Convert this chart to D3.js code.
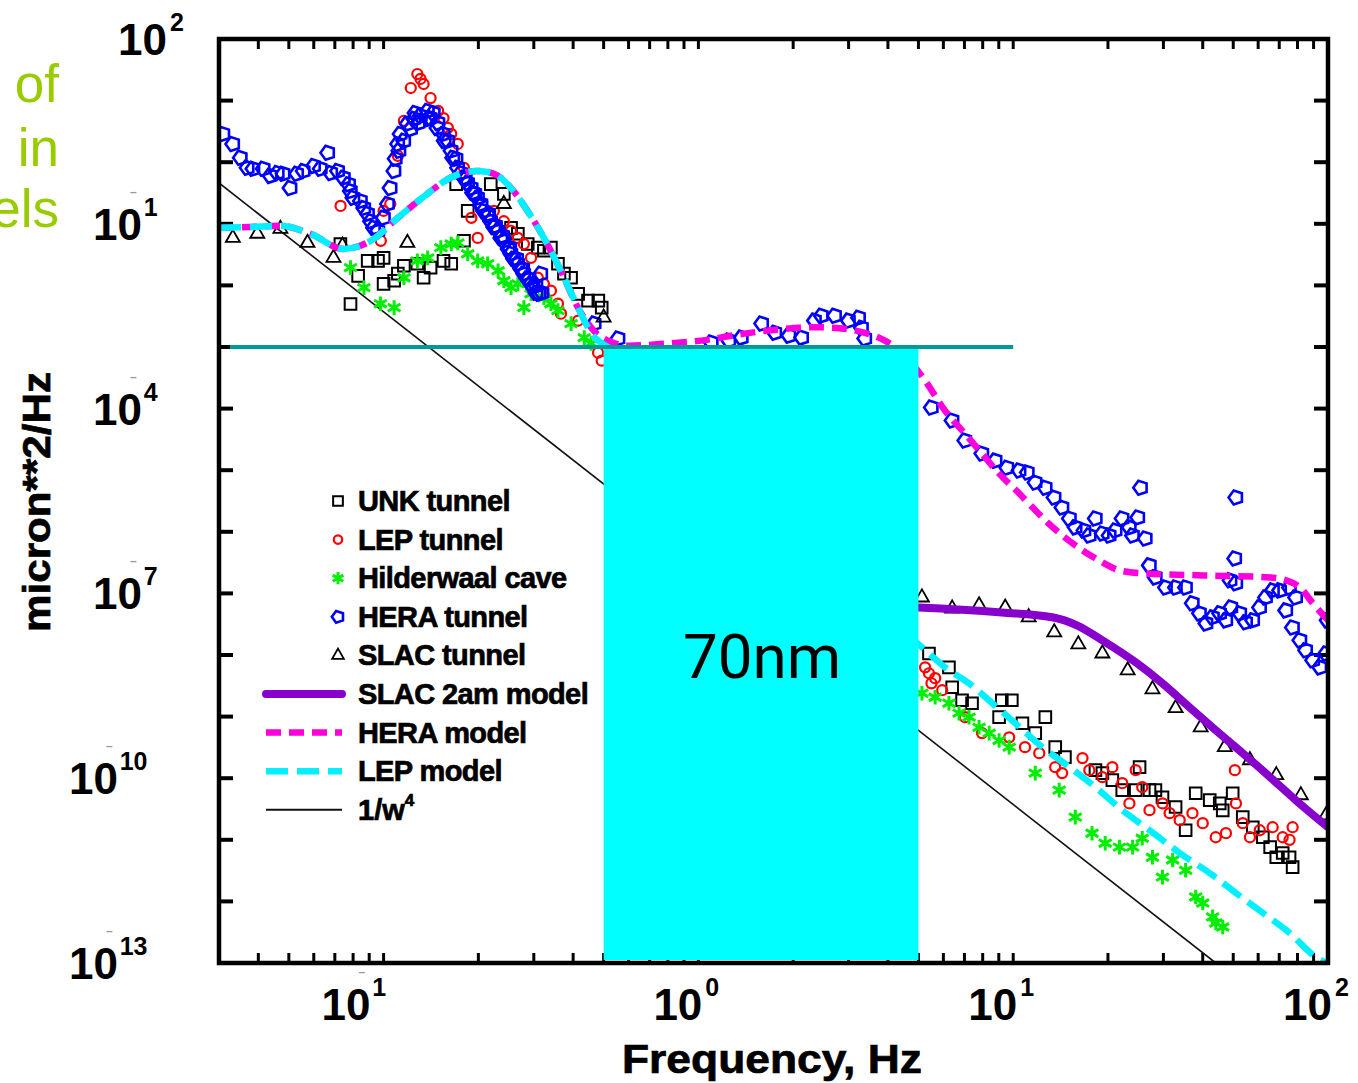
<!DOCTYPE html>
<html><head>
<meta charset="utf-8">
<script src="https://d3js.org/d3.v7.min.js"></script>
<style>
  body { margin: 0; background: #fff; }
  text { font-family: "Liberation Sans", Arial, sans-serif; }
  .heavy { stroke: #000; stroke-width: 0.7; }
</style>
</head>
<body>
<svg id="chart" width="1358" height="1083"></svg>
<script>
// ---- data: [frequency Hz, micron^2/Hz] ----
const unkTunnel = [
  [0.0729,0.047],[0.0785,0.005],[0.083,0.0143],[0.089,0.025],[0.096,0.025],[0.1,0.028],[0.1,0.0106],
  [0.108,0.0119],[0.111,0.0155],[0.116,0.0208],[0.128,0.0225],[0.134,0.0133],[0.141,0.0194],[0.155,0.025],
  [0.164,0.0225],[0.17,0.44],[0.18,0.053],[0.185,0.162],[0.219,0.44],[0.241,0.306],[0.254,0.086],[0.267,0.069],
  [0.287,0.047],[0.309,0.041],[0.323,0.0365],[0.34,0.041],[0.358,0.0225],[0.374,0.0155],[0.394,0.0133],
  [0.415,0.0073],[0.446,0.00565],[0.481,0.00565],[0.493,0.00435],
  [5.4,1.06e-8],[6.25,6.3e-9],[6.4,3.0e-9],[6.88,1.84e-9],[7.4,1.65e-9],[9.02,9.8e-10],[9.2,1.84e-9],
  [9.9,1.84e-9],[10.7,7.8e-10],[11.75,5.4e-10],[12.65,9.8e-10],[13.6,3.19e-10],[14.6,2.2e-10],[18.25,1.35e-10],
  [19.2,1.21e-10],[20.65,9.3e-11],[22.2,6.4e-11],[24.5,6.4e-11],[25.2,1.51e-10],[27.1,6.4e-11],[28.3,6.4e-11],
  [29.8,4.9e-11],[32.8,3.4e-11],[35.3,1.43e-11],[38,5.7e-11],[42.1,4.4e-11],[45.3,3.9e-11],[46.3,3.0e-11],
  [49.8,5.7e-11],[53.6,2.33e-11],[57.7,1.6e-11],[62.1,1.1e-11],[65.5,7.6e-12],[68.5,5.2e-12],[71.8,6.1e-12],
  [75.5,5.2e-12],[77.2,3.6e-12]
];
const lepTunnel = [
  [0.073,0.195],[0.098,0.053],[0.1,0.162],[0.105,0.21],[0.111,1.27],[0.116,4.7],[0.122,16],[0.128,27],
  [0.131,22.5],[0.134,18.6],[0.141,11],[0.149,6.8],[0.155,5.2],[0.16,3.6],[0.164,2.88],[0.172,1.98],[0.18,0.81],
  [0.19,0.125],[0.199,0.059],[0.224,0.162],[0.241,0.11],[0.254,0.077],[0.267,0.059],[0.279,0.047],[0.294,0.028],
  [0.309,0.0133],[0.323,0.0106],[0.34,0.0082],[0.358,0.00505],[0.366,0.00347],[0.415,0.00268],[0.48,8.1e-4],
  [0.493,6.0e-4],
  [5.25,6.3e-9],[5.4,5.05e-9],[5.5,3.47e-9],[5.65,4.2e-9],[5.95,2.68e-9],[7.03,9.8e-10],[7.96,5.4e-10],
  [9.71,4.6e-10],[10.9,3.19e-10],[12.1,2.55e-10],[13.6,1.51e-10],[14.3,1.21e-10],[16.6,2.12e-10],[17.45,1.35e-10],
  [19.2,1.04e-10],[20.65,1.51e-10],[22.2,8.3e-11],[23.4,3.9e-11],[24.5,1.35e-10],[25.7,7.15e-11],[27.1,3.03e-11],
  [29.8,3.9e-11],[31.4,2.71e-11],[33.8,2.08e-11],[37.1,2.71e-11],[40,1.86e-11],[44,1.1e-11],[47.4,1.28e-11],
  [51,3.9e-11],[50.6,1.35e-10],[53.6,1.86e-11],[56.5,1.1e-11],[60.7,1.43e-11],[66.7,1.6e-11],[71.8,1.1e-11],
  [77.2,1.6e-11],[75.5,1e-11]
];
const caveData = [
  [0.0785,0.0194],[0.0866,0.0092],[0.0977,0.00505],[0.108,0.00435],[0.116,0.0133],[0.128,0.025],[0.138,0.028],
  [0.152,0.041],[0.164,0.047],[0.172,0.049],[0.185,0.0326],[0.199,0.025],[0.214,0.0225],[0.231,0.0173],
  [0.241,0.0119],[0.254,0.0092],[0.267,0.0106],[0.279,0.00435],[0.294,0.0073],[0.323,0.0063],[0.34,0.00505],
  [0.358,0.0039],[0.394,0.0024],[0.434,0.00142],[0.456,0.00114],
  [5.13,2.4e-9],[5.65,2.06e-9],[6.25,1.65e-9],[6.73,1.14e-9],[7.24,9.8e-10],[7.79,6.7e-10],[8.39,5.4e-10],
  [9.02,4.1e-10],[9.71,3.19e-10],[11.75,1.21e-10],[14.0,6.4e-11],[15.75,2.33e-11],[17.8,1.28e-11],[19.6,8.8e-12],
  [21.75,7.6e-12],[23.95,7.6e-12],[25.7,1.06e-11],[27.7,5.2e-12],[29.8,2.48e-12],[32.1,4.7e-12],[35.3,3.2e-12],
  [38,1.18e-12],[40,9.4e-13],[43,5.6e-13],[44,4.45e-13],[46.3,3.84e-13]
];
const heraTunnel = [
  [0.0309,2.88],[0.0332,1.98],[0.0351,1.18],[0.0369,0.81],[0.0385,0.78],[0.0415,0.78],[0.0437,0.6],[0.046,0.67],
  [0.048,0.65],[0.0505,0.38],[0.053,0.65],[0.0556,0.72],[0.06,0.87],[0.063,0.78],[0.0665,1.42],[0.068,0.67],
  [0.0715,0.72],[0.0746,0.56],[0.0775,0.44],[0.0785,0.34],[0.08,0.265],[0.0845,0.235],[0.0866,0.18],[0.089,0.145],
  [0.091,0.11],[0.093,0.086],[0.096,0.077],[0.1,0.125],[0.103,0.21],[0.105,0.38],[0.108,0.72],[0.109,1.14],
  [0.111,1.98],[0.113,2.88],[0.119,4.2],[0.125,5.05],[0.131,5.65],[0.138,6.8],[0.141,5.2],[0.149,4.35],
  [0.155,2.88],[0.164,1.53],[0.172,0.81],[0.18,0.56],[0.19,0.38],[0.199,0.265],[0.208,0.162],[0.219,0.11],
  [0.231,0.077],[0.241,0.053],[0.254,0.0326],[0.267,0.0225],[0.279,0.0155],[0.294,0.0106],[0.305,0.0076],
  [0.316,0.0155],[0.467,0.0024],[0.556,0.00137],
  [0.122,3.47],[0.129,4.35],[0.139,5.05],[0.148,3.6],[0.156,2.22],[0.166,1.18],[0.176,0.67],[0.185,0.46],
  [0.195,0.306],[0.204,0.21],[0.216,0.145],[0.227,0.093],[0.239,0.064],[0.252,0.041],[0.265,0.0271],
  [0.277,0.0186],[0.29,0.0128],[0.305,0.0099],[0.319,0.0076],
  [0.112,1.53],[0.116,2.22],[0.126,6.3],[0.144,6.3],[0.16,2.22],[0.17,1.14],[0.182,0.53],[0.192,0.32],
  [0.204,0.195],[0.214,0.134],[0.224,0.089],[0.236,0.059],[0.249,0.039],[0.259,0.027],[0.273,0.0186],
  [0.286,0.0128],[0.298,0.0095],[0.312,0.0073],
  [1.10,0.00118],[1.25,0.00127],[1.37,0.00142],[1.59,0.0024],[1.75,0.00171],[1.94,0.00153],[2.13,0.00142],
  [2.34,0.00268],[2.46,0.00322],[2.71,0.00322],[3.0,0.00268],[3.23,0.00299],[3.3,0.00206],[3.38,0.00137],
  [5.5,1.04e-4],[6.4,6.4e-5],[7.03,3.03e-5],[7.96,1.86e-5],[8.77,1.43e-5],[9.56,1.1e-5],[10.45,9.9e-6],
  [11.1,9.2e-6],[11.75,6.3e-6],[12.65,5.2e-6],[13.5,3.6e-6],[14.3,2.48e-6],[15.1,1.65e-6],[15.75,1.18e-6],
  [16.8,1.05e-6],[17.45,8.7e-7],[18.25,1.65e-6],[19.2,9.4e-7],[20.2,8.7e-7],[21.1,1.05e-6],[22.2,1.65e-6],
  [23.4,1.18e-6],[23.95,8.7e-7],[24.9,1.71e-6],[25.4,5.2e-6],[26.3,7.8e-7],[27.1,2.85e-7],[28.3,1.82e-7],
  [30.5,1.25e-7],[32.8,1.25e-7],[35.3,1.25e-7],[37.1,6.9e-8],[39.1,4.74e-8],[41,3.26e-8],[43,4.1e-8],
  [45.3,4.74e-8],[47.4,3.65e-8],[49.2,5.9e-8],[48.9,1.63e-7],[51,1.46e-7],[51,3.6e-6],[50.6,3.7e-7],
  [52.5,4.74e-8],[54.8,3.4e-8],[57.7,3.65e-8],[60.7,5.9e-8],[63.4,8.6e-8],[66.7,1.12e-7],[70.3,1.12e-7],
  [73.5,5.3e-8],[75.5,1.25e-7],[77.2,2.8e-8],[79,8.6e-8],[81.5,1.73e-8],[85,1.19e-8],[89.5,8.2e-9],
  [94.3,6.3e-9],[98.5,1.06e-8],[99.5,3.65e-8]
];
const slacTunnel = [
  [0.0332,0.059],[0.0397,0.069],[0.047,0.083],[0.0573,0.049],[0.0693,0.028],[0.074,0.044],[0.119,0.049],
  [0.241,0.21],[0.50,0.003],
  [5.13,8.6e-8],[6.4,5.7e-8],[7.79,6.4e-8],[9.43,5.9e-8],[11.2,4.1e-8],[13.5,2.33e-8],[16.1,1.49e-8],
  [19.2,1.06e-8],[23.1,5.65e-9],[27.7,2.78e-9],[32.8,1.37e-9],[39.4,6.7e-10],[47,3.19e-10],[56.5,1.96e-10],
  [68.5,1.12e-10],[82,5.3e-11],[98.5,2.5e-11]
];
const slac2amModel = [
  [4.6,6e-8],[5.0,5.9e-8],[9.2,4.9e-8],[13.3,4.1e-8],[16.0,3.0e-8],[19.2,1.73e-8],[24.5,7.6e-9],[29.8,3.47e-9],
  [36.3,1.42e-9],[44,6.0e-10],[53.6,2.55e-10],[65.5,1.04e-10],[79,4.4e-11],[100,1.6e-11]
];
const heraModel = [
  [0.03,0.086],[0.0377,0.089],[0.047,0.093],[0.0585,0.069],[0.0746,0.039],[0.091,0.053],[0.111,0.125],
  [0.138,0.31],[0.163,0.56],[0.199,0.72],[0.224,0.65],[0.254,0.38],[0.287,0.16],[0.323,0.059],[0.366,0.017],
  [0.415,0.0043],[0.467,0.0018],[0.529,0.0012],[0.60,0.00105],[0.80,0.00114],[1.02,0.00127],[1.40,0.00165],
  [1.94,0.002],[2.34,0.0021],[2.85,0.002],[3.38,0.0017],[3.91,0.00127],[4.53,7.3e-4],[5.25,2.85e-4],
  [6.07,9.3e-5],[7.03,3.9e-5],[7.96,1.86e-5],[9.02,8.8e-6],[10.45,4.2e-6],[11.2,2.9e-6],[12.65,1.53e-6],
  [14.6,8.1e-7],[16.6,5.0e-7],[18.8,3.4e-7],[21.75,2.37e-7],[25.7,2.12e-7],[40,1.96e-7],[65.5,1.82e-7],
  [73.5,1.63e-7],[81.5,1.25e-7],[89.5,6.9e-8],[100,3.65e-8]
];
const lepModel = [
  [0.03,0.086],[0.0377,0.089],[0.047,0.093],[0.0585,0.069],[0.0746,0.039],[0.091,0.053],[0.111,0.125],
  [0.138,0.31],[0.163,0.56],[0.199,0.72],[0.224,0.65],[0.254,0.38],[0.287,0.16],[0.323,0.059],[0.366,0.017],
  [0.415,0.0043],[0.456,0.0017],[0.53,9e-4],
  [5.4,1.06e-8],[6.07,6.3e-9],[7.24,3.47e-9],[8.58,1.65e-9],[10.15,7.8e-10],[12.37,3.19e-10],[15.1,1.51e-10],
  [18.25,7.15e-11],[22.2,3.03e-11],[27.1,1.43e-11],[33.8,6.1e-12],[42.1,2.88e-12],[51,1.37e-12],[62.1,6.5e-13],
  [75.5,3.07e-13],[91.5,1.25e-13],[98,1.02e-13]
];
const invW4 = [[0.03,0.46],[44,1e-13]];

const limitLine = [[0.0325,1e-3],[10,1e-3]];
const bandBox = {f0: 0.5, f1: 5, v0: 1e-13, v1: 1e-3, label: "70nm"};
const xLabelExps = [-1, 0, 1, 2];
const yLabelExps = [2, -1, -4, -7, -10, -13];
const yDecades = d3.range(-13, 3);
const sideText = ["of", "in", "els"];

// ---- chart ----
const svg = d3.select("#chart");
const x = d3.scaleLog().domain([0.03, 100]).range([219, 1328]);
const y = d3.scaleLog().domain([1e-13, 1e2]).range([963, 39]);

svg.append("defs").append("clipPath").attr("id", "plotClip")
  .append("rect").attr("x", 219).attr("y", 39).attr("width", 1109).attr("height", 924);

// ticks
const ticks = svg.append("g").attr("stroke", "#000");
x.ticks().forEach(t => {
  ticks.append("line").attr("x1", x(t)).attr("x2", x(t)).attr("y1", 963).attr("y2", 953).attr("stroke-width", 3);
  ticks.append("line").attr("x1", x(t)).attr("x2", x(t)).attr("y1", 39).attr("y2", 49).attr("stroke-width", 3);
});
yDecades.forEach(e => {
  const yy = y(Math.pow(10, e));
  ticks.append("line").attr("x1", 219).attr("x2", 233).attr("y1", yy).attr("y2", yy).attr("stroke-width", 4);
  ticks.append("line").attr("x1", 1314).attr("x2", 1328).attr("y1", yy).attr("y2", yy).attr("stroke-width", 4);
});

const plot = svg.append("g").attr("clip-path", "url(#plotClip)");
const line = d3.line().x(d => x(d[0])).y(d => y(d[1])).curve(d3.curveMonotoneX);

// 1/w^4
plot.append("path").datum(invW4).attr("d", line).attr("fill", "none")
  .attr("stroke", "#111").attr("stroke-width", 1.6);

const pentagon = {
  draw(ctx, size) {
    const r = Math.sqrt(size) * 0.6;
    for (let i = 0; i < 5; i++) {
      const a = Math.PI + i * 2 * Math.PI / 5;
      const px = r * Math.cos(a), py = r * Math.sin(a);
      if (i) ctx.lineTo(px, py); else ctx.moveTo(px, py);
    }
    ctx.closePath();
  }
};

const scatterSeries = [
  {name: "UNK tunnel", data: unkTunnel, shape: d3.symbolSquare, size: 135, color: "#000", sw: 2},
  {name: "LEP tunnel", data: lepTunnel, shape: d3.symbolCircle, size: 80, color: "#ff0000", sw: 2.2},
  {name: "Hilderwaal cave", data: caveData, shape: d3.symbolAsterisk, size: 150, color: "#00ee00", sw: 3},
  {name: "HERA tunnel", data: heraTunnel, shape: pentagon, size: 150, color: "#0000ff", sw: 2.6},
  {name: "SLAC tunnel", data: slacTunnel, shape: d3.symbolTriangle, size: 85, color: "#000", sw: 1.8}
];
const lineSeries = [
  {name: "SLAC 2am model", data: slac2amModel, color: "#8800cc", sw: 8, dash: null},
  {name: "HERA model", data: heraModel, color: "#ff00dd", sw: 6.5, dash: "15,8"},
  {name: "LEP model", data: lepModel, color: "#00f0ff", sw: 6.5, dash: "22,9"}
];

scatterSeries.forEach(s => {
  plot.append("g").selectAll("path").data(s.data).join("path")
    .attr("transform", d => `translate(${x(d[0])},${y(d[1])})`)
    .attr("d", d3.symbol().type(s.shape).size(s.size))
    .attr("fill", "none").attr("stroke", s.color).attr("stroke-width", s.sw);
});

lineSeries.forEach(s => {
  plot.append("path").datum(s.data).attr("d", line).attr("fill", "none")
    .attr("stroke", s.color).attr("stroke-width", s.sw)
    .attr("stroke-dasharray", s.dash).attr("stroke-linecap", s.dash ? "butt" : "round");
});

// cyan band and limit line
svg.append("rect")
  .attr("x", x(bandBox.f0)).attr("y", y(bandBox.v1))
  .attr("width", x(bandBox.f1) - x(bandBox.f0)).attr("height", y(bandBox.v0) - y(bandBox.v1) - 3)
  .attr("fill", "#00ffff");
svg.append("path").datum(limitLine).attr("d", d3.line().x(d => x(d[0])).y(d => y(d[1])))
  .attr("stroke", "#00999a").attr("stroke-width", 4);
svg.append("text").attr("x", (x(bandBox.f0) + x(bandBox.f1)) / 2 + 1).attr("y", 678)
  .attr("text-anchor", "middle").style("font-family", "Roboto, 'Liberation Sans', sans-serif")
  .attr("font-size", 62).attr("fill", "#000").text(bandBox.label);

// frame
svg.append("rect").attr("x", 219).attr("y", 39).attr("width", 1109).attr("height", 924)
  .attr("fill", "none").attr("stroke", "#000").attr("stroke-width", 4.5);

// tick labels: "10" + small grey minus + superscript, one text element each
function powerLabel(xEnd, base, exp) {
  const t = svg.append("text").attr("x", xEnd - 49).attr("y", base).attr("font-weight", "bold");
  t.append("tspan").attr("font-size", 44).text("10");
  if (exp < 0) {
    t.append("tspan").attr("dx", -12).attr("dy", -44).attr("font-size", 12).attr("fill", "#999").text("\u2013");
    t.append("tspan").attr("dx", 7).attr("dy", 20).attr("font-size", 25).text(Math.abs(exp));
  } else {
    t.append("tspan").attr("dx", 3).attr("dy", -24).attr("font-size", 25).text(exp);
  }
}
yLabelExps.forEach(e => {
  const xEnd = e >= 0 ? 167 : (Math.abs(e) >= 10 ? 118 : 142);
  powerLabel(xEnd, y(Math.pow(10, e)) + 16, e);
});
xLabelExps.forEach(e => {
  powerLabel(x(Math.pow(10, e)) + (e < 0 ? -13 : 4), 1020, e);
});

// axis titles
svg.append("text").attr("class", "heavy").attr("x", 772).attr("y", 1073).attr("text-anchor", "middle")
  .attr("font-weight", "bold").attr("font-size", 40)
  .attr("textLength", 300).attr("lengthAdjust", "spacingAndGlyphs").text("Frequency, Hz");
svg.append("text").attr("class", "heavy").attr("transform", "translate(50,502) rotate(-90)")
  .attr("text-anchor", "middle").attr("font-weight", "bold").attr("font-size", 38)
  .attr("textLength", 260).attr("lengthAdjust", "spacingAndGlyphs").text("micron**2/Hz");

// legend
const legend = svg.append("g");
const rowY = i => 501 + i * 38.6;
scatterSeries.forEach((s, i) => {
  legend.append("path").attr("transform", `translate(338,${rowY(i)})`)
    .attr("d", d3.symbol().type(s.shape).size(s.size * 0.7))
    .attr("fill", "none").attr("stroke", s.color).attr("stroke-width", s.sw);
});
lineSeries.forEach((s, j) => {
  const i = scatterSeries.length + j;
  legend.append("line").attr("x1", 266).attr("x2", 342).attr("y1", rowY(i)).attr("y2", rowY(i))
    .attr("stroke", s.color).attr("stroke-width", s.sw).attr("stroke-dasharray", s.dash)
    .attr("stroke-linecap", s.dash ? "butt" : "round");
});
const wRow = scatterSeries.length + lineSeries.length;
legend.append("line").attr("x1", 266).attr("x2", 342).attr("y1", rowY(wRow)).attr("y2", rowY(wRow))
  .attr("stroke", "#111").attr("stroke-width", 2);
const names = scatterSeries.map(s => s.name).concat(lineSeries.map(s => s.name));
names.forEach((n, i) => {
  legend.append("text").attr("class", "heavy").attr("x", 358).attr("y", rowY(i) + 10)
    .attr("font-weight", "bold").attr("font-size", 29).attr("letter-spacing", -0.6).text(n);
});
const wt = legend.append("text").attr("class", "heavy").attr("x", 358).attr("y", rowY(wRow) + 10)
  .attr("font-weight", "bold").attr("font-size", 29);
wt.append("tspan").text("1/w");
wt.append("tspan").attr("dy", -14).attr("font-size", 17).text("4");

// clipped slide text on the left
sideText.forEach((t, i) => {
  svg.append("text").attr("x", 59).attr("y", [102, 166, 227][i]).attr("text-anchor", "end")
    .attr("font-size", 53).attr("fill", "#99cc00").text(t);
});
</script>
</body></html>
